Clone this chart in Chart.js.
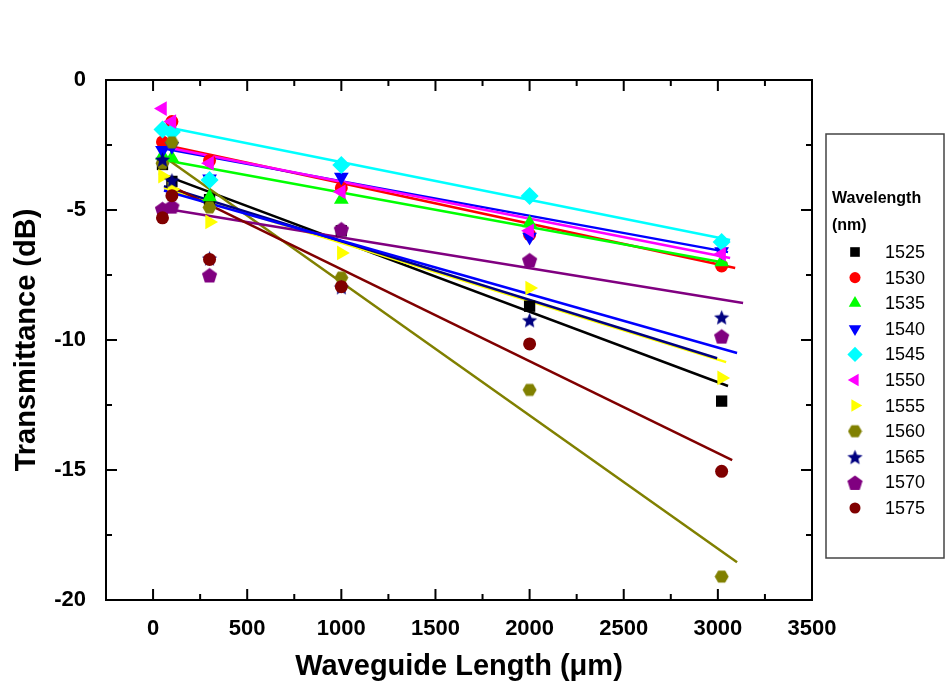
<!DOCTYPE html>
<html>
<head>
<meta charset="utf-8">
<script src="https://cdn.jsdelivr.net/npm/chart.js@4.4.0/dist/chart.umd.min.js"></script>
<style>
  html, body { margin: 0; padding: 0; background: #fff; }
  #wrap { width: 947px; height: 697px; }
</style>
</head>
<body>
<div id="wrap"><canvas id="chart" width="947" height="697"></canvas></div>
<script>
// waveguide lengths (um) and measured transmittance (dB) per wavelength
const lengths = [50, 100, 300, 1000, 2000, 3020];
const wavelengths = ['1525', '1530', '1535', '1540', '1545', '1550', '1555', '1560', '1565', '1570', '1575'];

const t1525 = [-3.25, -3.9, -4.6, -5.8, -8.7, -12.35];
const t1530 = [-2.38, -1.6, -3.1, -4.15, -5.95, -7.15];
const t1535 = [-2.9, -3.0, -4.5, -4.6, -5.5, -7.0];
const t1540 = [-2.7, -2.55, -3.8, -3.73, -6.04, -6.6];
const t1545 = [-1.9, -2.0, -3.85, -3.27, -4.46, -6.23];
const t1550 = [-1.1, -1.6, -3.2, -4.3, -5.8, -6.7];
const t1555 = [-3.7, -4.2, -5.46, -6.65, -8.0, -11.46];
const t1560 = [-3.2, -2.4, -4.9, -7.6, -11.92, -19.1];
const t1565 = [-3.05, -3.85, -6.85, -7.96, -9.23, -9.12];
const t1570 = [-4.95, -4.85, -7.5, -5.73, -6.92, -9.85];
const t1575 = [-5.3, -4.45, -6.9, -7.95, -10.15, -15.05];
const series = [t1525, t1530, t1535, t1540, t1545, t1550, t1555, t1560, t1565, t1570, t1575];

// linear fit lines (start / end of each line)
const fitStartX = [32, 32, 58, 42, 95, 42, 58, 58, 58, 42, 85, 58];
const fitStartY = [-3.58, -2.45, -3.08, -2.62, -1.85, -2.55, -4.15, -2.95, -4.08, -4.92, -4.04, -4.25];
const fitEndX = [3054, 3092, 3050, 3054, 3065, 3065, 3044, 3102, 2996, 3134, 3076, 3102];
const fitEndY = [-11.77, -7.23, -7.05, -6.62, -6.15, -6.85, -10.85, -18.55, -10.7, -8.58, -14.62, -10.5];

const xTicks = [0, 500, 1000, 1500, 2000, 2500, 3000, 3500];
const yTicks = [-20, -15, -10, -5, 0];

const colors = ['#000000', '#ff0000', '#00ff00', '#0000ff', '#00ffff', '#ff00ff', '#ffff00', '#808000', '#000080', '#800080', '#800000'];
const fitColors = colors.concat(['#0000ff']);

function shapeImage(kind, color, size) {
    const c = document.createElement('canvas');
    c.width = size; c.height = size;
    const g = c.getContext('2d');
    const cx = size / 2, r = size / 2 - 0.5;
    g.fillStyle = color;
    g.beginPath();
    let n, inner;
    if (kind === 'hex') { n = 6; inner = 1; }
    if (kind === 'pent') { n = 5; inner = 1; }
    if (kind === 'star') { n = 10; inner = 0.45; }
    for (let i = 0; i < n; i++) {
        const a = -Math.PI / 2 + i * 2 * Math.PI / n + (kind === 'hex' ? Math.PI / 6 : 0);
        const rr = (kind === 'star' && i % 2) ? r * inner : r;
        const px = cx + rr * Math.cos(a), py = cx + rr * Math.sin(a) + (kind === 'star' || kind === 'pent' ? 1 : 0);
        if (i === 0) g.moveTo(px, py); else g.lineTo(px, py);
    }
    g.closePath();
    g.fill();
    return c;
}

const marks = [
    { style: 'rect', radius: 8, rot: 0 },
    { style: 'circle', radius: 6.5, rot: 0 },
    { style: 'triangle', radius: 8.5, rot: 0 },
    { style: 'triangle', radius: 8.5, rot: 180 },
    { style: 'rectRot', radius: 9, rot: 0 },
    { style: 'triangle', radius: 8.5, rot: 270 },
    { style: 'triangle', radius: 8.5, rot: 90 },
    { style: shapeImage('hex', colors[7], 15), radius: 8, rot: 0 },
    { style: shapeImage('star', colors[8], 17), radius: 8, rot: 0 },
    { style: shapeImage('pent', colors[9], 17), radius: 8, rot: 0 },
    { style: 'circle', radius: 6.5, rot: 0 }
];

const datasets = [];
series.forEach((vals, i) => {
    datasets.push({
        label: wavelengths[i],
        data: lengths.map((x, j) => ({ x: x, y: vals[j] })),
        showLine: false,
        pointStyle: marks[i].style,
        pointRadius: marks[i].radius,
        pointRotation: marks[i].rot,
        backgroundColor: colors[i],
        borderColor: colors[i],
        borderWidth: 0,
        order: series.length - i
    });
});
fitColors.forEach((c, i) => {
    datasets.push({
        label: 'fit',
        data: [{ x: fitStartX[i], y: fitStartY[i] }, { x: fitEndX[i], y: fitEndY[i] }],
        showLine: true,
        borderColor: c,
        borderWidth: 2.5,
        pointRadius: 0,
        order: 30 - i
    });
});

const font = "'Liberation Sans', Arial, sans-serif";

const framePlugin = {
    id: 'frame',
    afterDraw(chart) {
        const ctx = chart.ctx;
        const a = chart.chartArea;
        const xs = chart.scales.x, ys = chart.scales.y;
        ctx.save();
        ctx.strokeStyle = '#000';
        ctx.lineWidth = 2;
        ctx.strokeRect(a.left, a.top, a.right - a.left, a.bottom - a.top);
        ctx.beginPath();
        xTicks.forEach((v, i) => {
            const px = xs.getPixelForValue(v);
            ctx.moveTo(px, a.bottom); ctx.lineTo(px, a.bottom - 11);
            ctx.moveTo(px, a.top); ctx.lineTo(px, a.top + 11);
            if (i > 0) {
                const m = xs.getPixelForValue((v + xTicks[i - 1]) / 2);
                ctx.moveTo(m, a.bottom); ctx.lineTo(m, a.bottom - 6);
                ctx.moveTo(m, a.top); ctx.lineTo(m, a.top + 6);
            }
        });
        yTicks.forEach((v, i) => {
            const py = ys.getPixelForValue(v);
            ctx.moveTo(a.left, py); ctx.lineTo(a.left + 11, py);
            ctx.moveTo(a.right, py); ctx.lineTo(a.right - 11, py);
            if (i > 0) {
                const m = ys.getPixelForValue((v + yTicks[i - 1]) / 2);
                ctx.moveTo(a.left, m); ctx.lineTo(a.left + 6, m);
                ctx.moveTo(a.right, m); ctx.lineTo(a.right - 6, m);
            }
        });
        ctx.stroke();

        // legend box
        ctx.lineWidth = 1.5;
        ctx.strokeStyle = '#444';
        ctx.strokeRect(826, 134, 118, 424);
        ctx.fillStyle = '#000';
        ctx.textBaseline = 'middle';
        ctx.textAlign = 'left';
        ctx.font = 'bold 16px ' + font;
        ctx.fillText('Wavelength', 832, 199);
        ctx.fillText('(nm)', 832, 226);
        ctx.font = '18px ' + font;
        wavelengths.forEach((w, i) => {
            const y = 252 + i * 25.6;
            const opts = {
                pointStyle: marks[i].style,
                radius: marks[i].radius * 0.85,
                rotation: marks[i].rot,
                borderWidth: 0
            };
            ctx.fillStyle = colors[i];
            ctx.strokeStyle = colors[i];
            Chart.helpers.drawPoint(ctx, opts, 855, y);
            ctx.fillStyle = '#000';
            ctx.fillText(w, 885, y + 1);
        });
        ctx.restore();
    }
};

new Chart(document.getElementById('chart'), {
    type: 'scatter',
    data: { datasets: datasets },
    plugins: [framePlugin],
    options: {
        responsive: false,
        animation: false,
        devicePixelRatio: 1,
        layout: { padding: { left: 0, top: 80, right: 135, bottom: 0 } },
        plugins: {
            legend: { display: false },
            tooltip: { enabled: false }
        },
        scales: {
            x: {
                type: 'linear',
                min: -250,
                max: 3500,
                afterBuildTicks: s => { s.ticks = xTicks.map(v => ({ value: v })); },
                afterFit: s => { s.height = 97; },
                grid: { display: false },
                border: { display: false },
                ticks: {
                    color: '#000',
                    padding: 8,
                    maxRotation: 0,
                    autoSkip: false,
                    callback: v => String(v),
                    font: { family: font, size: 22, weight: 'bold' }
                },
                title: {
                    display: true,
                    text: 'Waveguide Length (μm)',
                    color: '#000',
                    padding: { top: 0, bottom: 13 },
                    font: { family: font, size: 29, weight: 'bold' }
                }
            },
            y: {
                type: 'linear',
                min: -20,
                max: 0,
                afterBuildTicks: s => { s.ticks = yTicks.map(v => ({ value: v })); },
                afterFit: s => { s.width = 106; },
                grid: { display: false },
                border: { display: false },
                ticks: {
                    color: '#000',
                    padding: 12,
                    callback: v => String(v),
                    font: { family: font, size: 22, weight: 'bold' }
                },
                title: {
                    display: true,
                    text: 'Transmittance (dB)',
                    color: '#000',
                    padding: { top: 10, bottom: 0 },
                    font: { family: font, size: 29, weight: 'bold' }
                }
            }
        }
    }
});
</script>
</body>
</html>
